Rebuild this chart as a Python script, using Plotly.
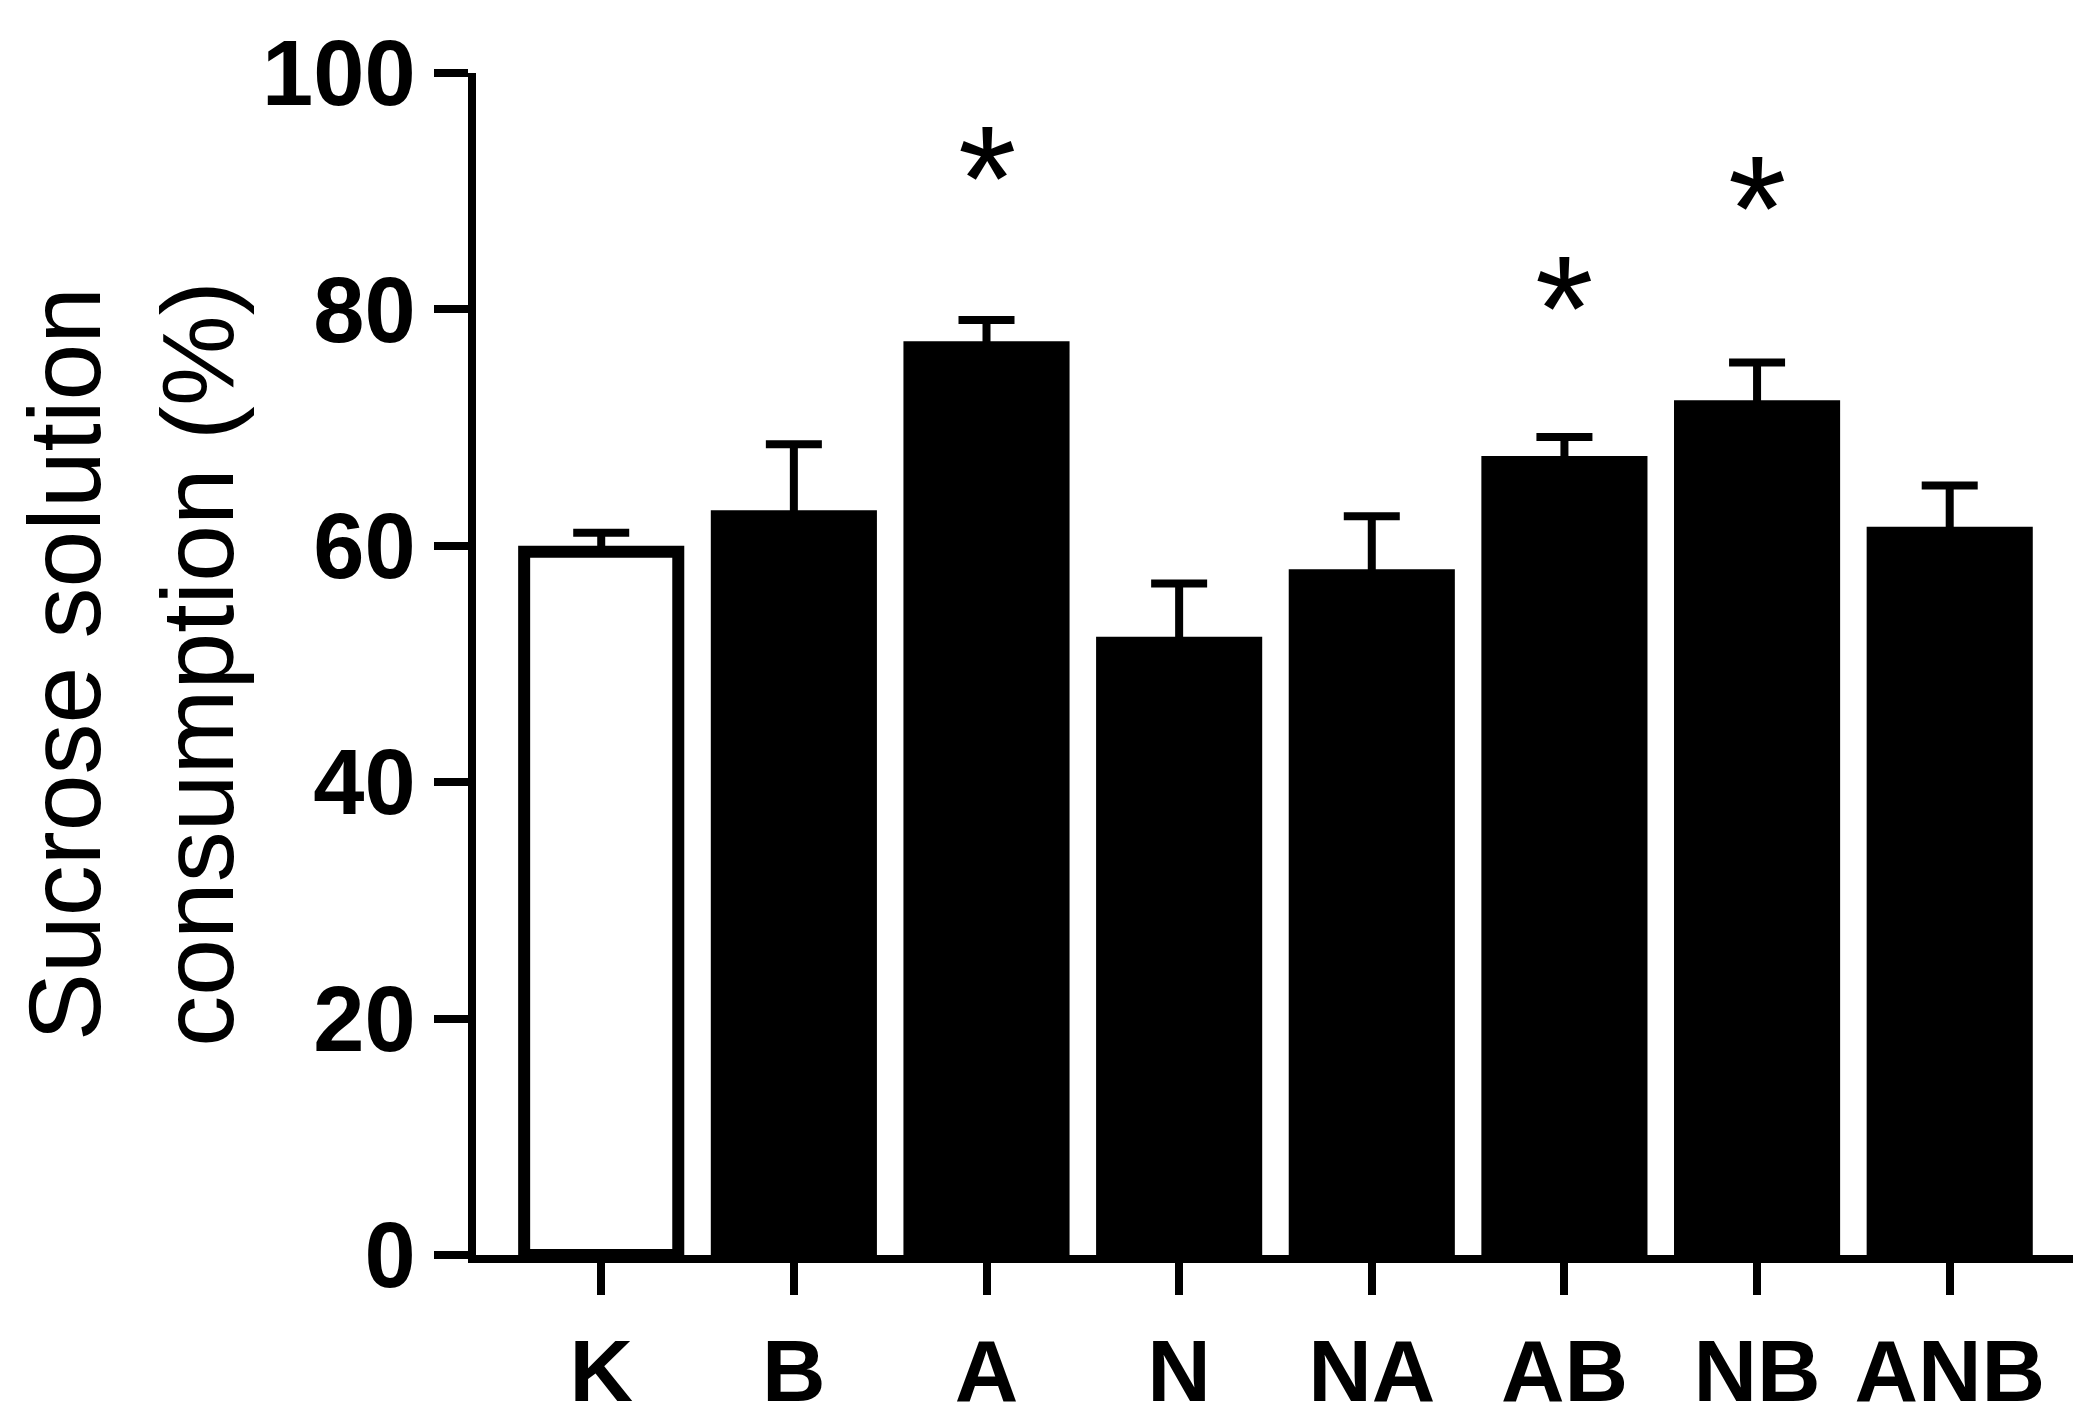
import plotly.graph_objects as go

groups = ["K", "B", "A", "N", "NA", "AB", "NB", "ANB"]
means = [59.5, 62.5, 76.8, 51.8, 57.5, 67.1, 71.8, 61.1]
sem = [1.6, 6.1, 2.3, 5.0, 5.0, 2.1, 3.7, 4.0]
star_groups = ["A", "AB", "NB"]
star_y = [91.0, 80.0, 88.5]

font = "Liberation Sans, Arial, sans-serif"
colors = ["white"] + ["black"] * (len(groups) - 1)

fig = go.Figure()
fig.add_trace(go.Bar(
    x=list(range(len(groups))),
    y=means,
    width=0.8,
    marker=dict(color=colors, line=dict(color="black", width=12)),
    error_y=dict(type="data", array=sem, arrayminus=[0] * len(sem), symmetric=False,
                 color="black", thickness=8, width=28),
))

for g, y in zip(star_groups, star_y):
    fig.add_annotation(x=groups.index(g), y=y, text="*", showarrow=False,
                       font=dict(family=font, size=150, color="black"), yanchor="middle")

fig.update_layout(
    width=2098, height=1424,
    plot_bgcolor="white", paper_bgcolor="white",
    margin=dict(l=468, r=33, t=65, b=152),
    showlegend=False,
    xaxis=dict(range=[-0.65, 7.64], tickvals=list(range(len(groups))), ticktext=groups,
               showline=True, linecolor="black", linewidth=8,
               ticks="outside", ticklen=32, tickwidth=8, tickcolor="black",
               tickfont=dict(family=font, size=88, color="black", weight="bold"),
               showgrid=False, zeroline=False),
    yaxis=dict(range=[0, 100], tickvals=[0, 20, 40, 60, 80, 100],
               showline=True, linecolor="black", linewidth=8,
               ticks="outside", ticklen=34, tickwidth=8, tickcolor="black",
               tickfont=dict(family=font, size=92, color="black", weight="bold"),
               title=dict(text="Sucrose solution<br>consumption (%)", standoff=25,
                          font=dict(family=font, size=102, color="black")),
               showgrid=False, zeroline=False),
)

fig.write_html("out.html")
